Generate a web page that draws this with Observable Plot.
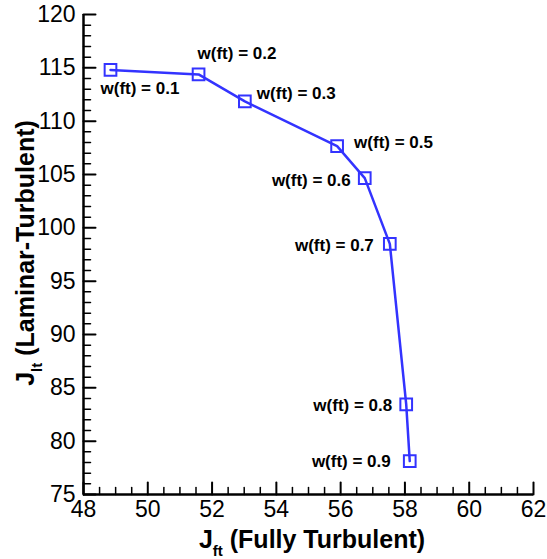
<!DOCTYPE html>
<html>
<head>
<meta charset="utf-8">
<script src="https://cdn.jsdelivr.net/npm/d3@7"></script>
<script src="https://cdn.jsdelivr.net/npm/@observablehq/plot@0.6"></script>
<style>
  html, body { margin: 0; padding: 0; background: #fff; }
  #chart { width: 547px; height: 559px; }
</style>
</head>
<body>
<div id="chart"></div>
<script>
// ---- data ----
const wft = [0.1, 0.2, 0.3, 0.5, 0.6, 0.7, 0.8, 0.9];
const jft = [48.84, 51.58, 53.02, 55.89, 56.75, 57.53, 58.04, 58.15];
const jlt = [114.8, 114.38, 111.85, 107.66, 104.66, 98.5, 83.45, 78.13];
const xTicks = [48, 50, 52, 54, 56, 58, 60, 62];
const yTicks = [75, 80, 85, 90, 95, 100, 105, 110, 115, 120];
const xMinor = d3.range(48, 62.01, 0.5).filter(v => v % 2 !== 0);
const yMinor = d3.range(75, 120.01, 1).filter(v => v % 5 !== 0);

const rows = wft.map((w, i) => ({w, x: jft[i], y: jlt[i], label: `w(ft) = ${w}`}));

// label placement (layout only)
const place = [
  {anchor: "start", dx: -10, dy: 19},
  {anchor: "start", dx: -1, dy: -21},
  {anchor: "start", dx: 12, dy: -8},
  {anchor: "start", dx: 17, dy: -4},
  {anchor: "end", dx: -14, dy: 2},
  {anchor: "end", dx: -16, dy: 2},
  {anchor: "end", dx: -14, dy: 1},
  {anchor: "end", dx: -19, dy: 0}
];

const font = "Arial, 'Liberation Sans', Helvetica, sans-serif";
const blue = "#3333ff";
const tickShape = {draw(ctx, l) { ctx.moveTo(0, 0); ctx.lineTo(0, -l); }};

const plot = Plot.plot({
  width: 547,
  height: 559,
  marginLeft: 83,
  marginRight: 14,
  marginTop: 14,
  marginBottom: 65,
  x: {domain: [48, 62], axis: null},
  y: {domain: [75, 120], axis: null},
  style: {fontFamily: font, fontSize: "23px", background: "white", color: "black", overflow: "visible"},
  marks: [
    // axis lines
    Plot.ruleX([48], {y1: 75, y2: 120, stroke: "black", strokeWidth: 2.5}),
    Plot.ruleY([75], {x1: 48, x2: 62, stroke: "black", strokeWidth: 2.5}),
    // inward ticks
    Plot.vector(xTicks, {x: d => d, y: 75, length: 12, rotate: 0, anchor: "start", shape: tickShape, stroke: "black", strokeWidth: 2}),
    Plot.vector(xMinor, {x: d => d, y: 75, length: 7, rotate: 0, anchor: "start", shape: tickShape, stroke: "black", strokeWidth: 1.5}),
    Plot.vector(yTicks, {x: 48, y: d => d, length: 12, rotate: 90, anchor: "start", shape: tickShape, stroke: "black", strokeWidth: 2}),
    Plot.vector(yMinor, {x: 48, y: d => d, length: 7, rotate: 90, anchor: "start", shape: tickShape, stroke: "black", strokeWidth: 1.5}),
    // tick labels
    Plot.text(xTicks, {x: d => d, y: 75, text: d => String(d), dy: 15, fontSize: 23, textAnchor: "middle", lineAnchor: "middle", fill: "black"}),
    Plot.text(yTicks, {x: 48, y: d => d, text: d => String(d), dx: -8, fontSize: 23, textAnchor: "end", lineAnchor: "middle", fill: "black"}),
    // data
    Plot.line(rows, {x: "x", y: "y", stroke: blue, strokeWidth: 2.5}),
    Plot.dot(rows, {x: "x", y: "y", symbol: "square", r: 6.6, stroke: blue, strokeWidth: 2, fill: "none"}),
    ...rows.map((r, i) => Plot.text([r], {
      x: "x", y: "y", text: "label",
      textAnchor: place[i].anchor, dx: place[i].dx, dy: place[i].dy,
      fontSize: 17, fontWeight: "bold", fill: "black"
    }))
  ]
});

document.getElementById("chart").appendChild(plot);

// axis titles with subscripts
const svg = d3.select(plot);
const xt = svg.append("text")
  .attr("transform", "translate(312,548)")
  .attr("text-anchor", "middle")
  .attr("font-family", font)
  .attr("font-weight", "bold")
  .attr("font-size", 25)
  .attr("fill", "black");
xt.append("tspan").text("J");
xt.append("tspan").attr("font-size", 15).attr("dy", 8).text("ft");
xt.append("tspan").attr("dy", -8).text(" (Fully Turbulent)");

const yt = svg.append("text")
  .attr("transform", "translate(34,253) rotate(-90)")
  .attr("text-anchor", "middle")
  .attr("font-family", font)
  .attr("font-weight", "bold")
  .attr("font-size", 25)
  .attr("fill", "black");
yt.append("tspan").text("J");
yt.append("tspan").attr("font-size", 15).attr("dy", 8).text("lt");
yt.append("tspan").attr("dy", -8).text(" (Laminar-Turbulent)");
</script>
</body>
</html>
